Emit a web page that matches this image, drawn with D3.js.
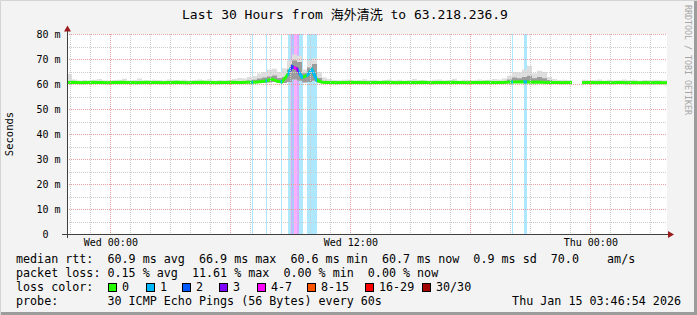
<!DOCTYPE html>
<html>
<head>
<meta charset="utf-8">
<script src="https://cdn.jsdelivr.net/npm/d3@7"></script>
<style>
html, body { margin: 0; padding: 0; background: #f3f3f3; }
svg text { font-family: "DejaVu Sans Mono", "Noto Sans CJK SC", monospace; white-space: pre; }
</style>
</head>
<body>
<svg id="chart" width="697" height="315"></svg>
<script>
// 15 minute samples, Tue 21:50 -> Thu 03:50
var startTime = new Date(2026, 0, 13, 21, 50);
var endTime = new Date(2026, 0, 15, 3, 50);
var stepMinutes = 15;

var median = [
  60.8,60.9,60.8,60.7,60.8,60.9,60.8,60.8,60.7,60.8,
  60.8,60.9,60.8,60.8,60.7,60.8,60.9,60.8,60.8,60.7,
  60.8,60.8,60.9,60.8,60.7,60.8,60.8,60.9,60.8,60.8,
  60.7,60.8,60.8,60.9,60.8,60.8,60.9,60.9,61.0,61.2,
  61.5,62.2,61.3,61.0,63.5,67.2,66.2,62.8,63.6,65.9,
  61.6,60.9,60.8,60.8,60.7,60.8,60.8,60.9,60.8,60.8,
  60.7,60.8,60.8,60.8,60.9,60.8,60.7,60.8,60.8,60.8,
  60.8,60.9,60.8,60.7,60.8,60.8,60.8,60.9,60.8,60.8,
  60.7,60.8,60.8,60.8,60.9,60.8,60.8,60.8,60.9,61.0,
  61.0,61.1,61.0,60.9,61.0,60.9,60.8,60.8,60.8,60.7,
  60.8,60.8,null,60.7,60.8,60.8,60.7,60.8,60.8,60.7,
  60.8,60.8,60.7,60.8,60.7,60.7,60.8,60.7,60.8,60.7,60.7
];
var smokeLow = [
  60.4,60.5,60.4,60.4,60.4,60.5,60.4,60.4,60.3,60.4,
  60.4,60.4,60.5,60.4,60.4,60.4,60.5,60.4,60.4,60.3,
  60.4,60.4,60.5,60.4,60.4,60.4,60.4,60.5,60.4,60.4,
  60.3,60.4,60.4,60.5,60.4,60.4,60.5,60.5,60.6,60.7,
  60.8,61.0,60.7,60.6,61.0,62.0,61.5,60.8,61.0,61.5,
  60.7,60.5,60.4,60.4,60.3,60.4,60.4,60.5,60.4,60.4,
  60.3,60.4,60.4,60.4,60.5,60.4,60.3,60.4,60.4,60.4,
  60.4,60.5,60.4,60.3,60.4,60.4,60.4,60.5,60.4,60.4,
  60.3,60.4,60.4,60.4,60.5,60.4,60.4,60.4,60.5,60.6,
  60.6,60.7,60.6,60.5,60.6,60.5,60.4,60.4,60.4,60.3,
  60.4,60.4,null,60.3,60.4,60.4,60.3,60.4,60.4,60.3,
  60.4,60.4,60.3,60.4,60.3,60.3,60.4,60.3,60.4,60.3,60.3
];
var smokeMid = [
  61.3,61.2,61.1,61.2,61.1,61.2,61.3,61.1,61.1,61.2,
  61.2,61.3,61.1,61.2,61.3,61.1,61.1,61.2,61.2,61.1,
  61.3,61.2,61.1,61.2,61.1,61.2,61.3,61.1,61.2,61.1,
  61.2,61.1,61.2,61.3,61.4,61.3,61.6,61.9,62.4,62.8,
  63.2,63.6,62.6,63.0,66.0,69.6,69.0,64.5,66.8,68.2,
  62.6,61.5,61.3,61.2,61.1,61.2,61.2,61.1,61.2,61.3,
  61.1,61.2,61.1,61.2,61.3,61.1,61.2,61.1,61.2,61.3,
  61.1,61.2,61.1,61.2,61.3,61.1,61.2,61.3,61.1,61.2,
  61.2,61.1,61.3,61.2,61.2,61.3,61.3,61.4,62.0,62.8,
  62.5,63.0,63.5,62.5,63.0,62.5,61.8,61.4,61.2,61.2,
  61.1,61.2,null,61.2,61.1,61.2,61.3,61.1,61.2,61.1,
  61.2,61.3,61.1,61.2,61.1,61.2,61.1,61.2,61.2,61.1,61.1
];
var smokeHigh = [
  64.2,62.0,61.6,61.8,61.5,61.9,62.2,61.7,61.6,61.8,
  61.9,62.3,61.6,61.8,62.4,61.7,61.6,61.9,61.8,61.6,
  62.0,61.8,61.7,61.9,61.6,61.8,62.0,61.7,62.1,61.6,
  61.8,61.7,61.9,62.2,62.6,62.4,63.0,63.4,64.4,65.0,
  66.0,66.3,65.0,66.5,69.5,72.0,71.5,66.0,69.5,70.5,
  65.0,62.8,62.2,61.8,61.7,61.9,62.0,61.6,61.8,62.1,
  61.7,61.9,61.6,61.8,62.0,61.7,61.9,61.6,61.8,62.2,
  61.7,61.8,61.6,61.9,62.0,61.7,61.8,62.3,61.6,61.9,
  61.8,61.7,62.0,61.8,61.9,62.2,62.0,62.4,63.5,65.0,
  64.8,66.0,67.5,64.5,65.5,65.0,63.0,62.2,61.8,61.9,
  61.7,61.8,null,61.9,61.7,61.8,62.0,61.6,61.9,61.7,
  61.8,62.0,61.7,61.9,61.6,61.8,61.7,61.9,61.8,61.7,61.7
];

// loss events: start, duration (minutes), pings lost
var lossStart = ["2026-01-14T07:05","2026-01-14T07:47","2026-01-14T08:32","2026-01-14T08:53",
  "2026-01-14T09:02","2026-01-14T09:05","2026-01-14T09:11","2026-01-14T09:20","2026-01-14T09:26",
  "2026-01-14T09:50","2026-01-14T20:05","2026-01-14T20:41"];
var lossMinutes = [3, 3, 3, 9, 3, 6, 9, 6, 12, 30, 3, 9];
var lossCount = [1, 1, 1, 1, 3, 2, 5, 3, 1, 1, 1, 1];

var lossLabels = ["0", "1", "2", "3", "4-7", "8-15", "16-29", "30/30"];
var lossColors = ["#26ff00", "#00b8ff", "#0059ff", "#7e00ff", "#ff00ff", "#ff5500", "#ff0000", "#a10000"];
var swatchX = [108, 146, 182, 219, 257, 307, 365, 422];

var yTicks = [0, 10, 20, 30, 40, 50, 60, 70, 80];
var xLabelTimes = [new Date(2026, 0, 14, 0, 0), new Date(2026, 0, 14, 12, 0), new Date(2026, 0, 15, 0, 0)];

var titleText = "Last 30 Hours from 海外清洗 to 63.218.236.9";
var rttRow = ["60.9 ms avg", "66.9 ms max", "60.6 ms min", "60.7 ms now", "0.9 ms sd", "70.0    am/s"];
var lossRow = ["0.15 % avg", "11.61 % max", "0.00 % min", "0.00 % now"];
var probeText = "30 ICMP Echo Pings (56 Bytes) every 60s";
var stampText = "Thu Jan 15 03:46:54 2026";

function lossColor(n) {
  if (n <= 3) return lossColors[n];
  if (n <= 7) return lossColors[4];
  if (n <= 15) return lossColors[5];
  if (n <= 29) return lossColors[6];
  return lossColors[7];
}

var svg = d3.select('#chart');
var x = d3.scaleTime().domain([startTime, endTime]).range([67, 667]);
var y = d3.scaleLinear().domain([0, 80]).range([234.5, 34.5]);

var data = median.map((v, i) => ({
  t: d3.timeMinute.offset(startTime, i * stepMinutes),
  med: v, lo: smokeLow[i], mid: smokeMid[i], hi: smokeHigh[i]
}));
var losses = lossStart.map((s, i) => {
  var t0 = new Date(s);
  return {t0: t0, t1: d3.timeMinute.offset(t0, lossMinutes[i]), n: lossCount[i]};
});

// frame
svg.append('rect').attr('x', 0).attr('y', 0).attr('width', 697).attr('height', 315).attr('fill', '#f3f3f3');
svg.append('path').attr('d', 'M0.5,315V0.5H697').attr('stroke', '#d4d4d4').attr('fill', 'none');
svg.append('path').attr('d', 'M1,313.5H695.5V1').attr('stroke', '#9c9c9c').attr('stroke-width', 3).attr('fill', 'none');

// canvas
svg.append('rect').attr('x', 67).attr('y', 34).attr('width', 600).attr('height', 200).attr('fill', '#ffffff');

var defs = svg.append('defs');
defs.append('clipPath').attr('id', 'plotclip').append('rect')
    .attr('x', 67).attr('y', 34).attr('width', 600).attr('height', 200);

var plot = svg.append('g').attr('clip-path', 'url(#plotclip)');

// loss bars
plot.selectAll('.lossbar')
    .data(losses)
    .join('rect')
    .attr('class', 'lossbar')
    .attr('x', d => Math.floor(x(d.t0)))
    .attr('y', 34)
    .attr('width', d => Math.max(1, Math.round(x(d.t1) - x(d.t0))))
    .attr('height', 200)
    .attr('fill', d => lossColor(d.n))
    .attr('opacity', 0.32);

// grid
var minorY = d3.range(5, 80, 10), majorY = d3.range(10, 90, 10);
var hours = d3.timeHour.range(startTime, endTime);
var grid = svg.append('g').attr('shape-rendering', 'crispEdges').attr('stroke-dasharray', '1,1');
grid.selectAll('.gy0').data(minorY).join('line')
    .attr('x1', 67).attr('x2', 667)
    .attr('y1', d => Math.round(y(d)) + 0.5).attr('y2', d => Math.round(y(d)) + 0.5)
    .attr('stroke', '#cdcdcd');
grid.selectAll('.gx0').data(hours.filter(h => h.getHours() % 6 != 0)).join('line')
    .attr('x1', d => Math.round(x(d)) + 0.5).attr('x2', d => Math.round(x(d)) + 0.5)
    .attr('y1', 34).attr('y2', 234)
    .attr('stroke', '#cdcdcd');
grid.selectAll('.gy1').data(majorY).join('line')
    .attr('x1', 67).attr('x2', 667)
    .attr('y1', d => Math.floor(y(d)) + 0.5).attr('y2', d => Math.floor(y(d)) + 0.5)
    .attr('stroke', '#e6a0a0');
grid.selectAll('.gx1').data(hours.filter(h => h.getHours() % 6 == 0)).join('line')
    .attr('x1', d => Math.round(x(d)) + 0.5).attr('x2', d => Math.round(x(d)) + 0.5)
    .attr('y1', 34).attr('y2', 234)
    .attr('stroke', '#e6a0a0');

// smoke
var smokeOuter = d3.area().defined(d => d.hi != null).curve(d3.curveStepAfter)
    .x(d => x(d.t)).y0(d => y(d.lo)).y1(d => y(d.hi));
var smokeInner = d3.area().defined(d => d.mid != null).curve(d3.curveStepAfter)
    .x(d => x(d.t)).y0(d => y(d.lo)).y1(d => y(d.mid));
plot.append('path').attr('d', smokeOuter(data)).attr('fill', '#dedede');
plot.append('path').attr('d', smokeInner(data)).attr('fill', '#9c9c9c');

// median, dark rim then coloured line
var medLine = d3.line().defined(d => d.med != null).x(d => x(d.t)).y(d => y(d.med));
plot.append('path').attr('d', medLine(data))
    .attr('fill', 'none').attr('stroke', lossColors[0]).attr('stroke-width', 3);

losses.forEach((d, i) => {
  var x0 = x(d.t0), x1 = x(d.t1);
  defs.append('clipPath').attr('id', 'lc' + i).append('rect')
      .attr('x', x0 - 0.5).attr('y', 0).attr('width', Math.max(1.5, x1 - x0 + 0.5)).attr('height', 315);
  plot.append('path').attr('d', medLine(data))
      .attr('clip-path', 'url(#lc' + i + ')')
      .attr('fill', 'none').attr('stroke', lossColor(d.n)).attr('stroke-width', 3);
});

// axes
svg.append('line').attr('x1', 67.5).attr('x2', 67.5).attr('y1', 238).attr('y2', 29)
    .attr('stroke', '#404040');
svg.append('line').attr('x1', 62).attr('x2', 670).attr('y1', 234.5).attr('y2', 234.5)
    .attr('stroke', '#404040');
svg.append('path').attr('d', 'M64,31.5L67.5,25.5L71,31.5Z').attr('fill', '#9b1c1c');
svg.append('path').attr('d', 'M668,231L674,234.5L668,238Z').attr('fill', '#9b1c1c');

var xAxis = svg.append('g')
    .attr('transform', 'translate(0,234)')
    .call(d3.axisBottom(x).tickValues(xLabelTimes).tickFormat(d3.timeFormat('%a %H:%M')).tickSize(0).tickPadding(5));
xAxis.select('.domain').remove();
xAxis.selectAll('text').attr('font-size', 10).attr('font-family', '"DejaVu Sans Mono", monospace').attr('fill', '#000');

var yAxis = svg.append('g')
    .attr('transform', 'translate(67,0)')
    .call(d3.axisLeft(y).tickValues(yTicks).tickFormat(d => d == 0 ? '0  ' : d + ' m').tickSize(0).tickPadding(6.5));
yAxis.select('.domain').remove();
yAxis.selectAll('text').attr('font-size', 10).attr('font-family', '"DejaVu Sans Mono", monospace').attr('fill', '#000');

// titles
svg.append('text').attr('x', 182).attr('y', 19).attr('font-size', 13).text(titleText);
svg.append('text').attr('transform', 'translate(13,134) rotate(-90)')
    .attr('text-anchor', 'middle').attr('font-size', 10.5).text('Seconds');
svg.append('text').attr('transform', 'translate(685,5) rotate(90)')
    .attr('font-size', 8.3).attr('fill', '#a6a6a6')
    .attr('textLength', 110).attr('lengthAdjust', 'spacing')
    .text('RRDTOOL / TOBI OETIKER');

// legend
var legend = svg.append('g').attr('font-size', 11.7).attr('fill', '#000');
legend.append('text').attr('x', 16).attr('y', 263).text('median rtt:  ' + rttRow.join('  '));
legend.append('text').attr('x', 16).attr('y', 277).text('packet loss: ' + lossRow.join('  '));
legend.append('text').attr('x', 16).attr('y', 291).text('loss color:');
legend.selectAll('.sw').data(lossLabels).join('rect')
    .attr('x', (d, i) => swatchX[i] + 0.5).attr('y', 283.5)
    .attr('width', 8).attr('height', 8)
    .attr('fill', (d, i) => lossColors[i]).attr('stroke', '#000');
legend.selectAll('.swl').data(lossLabels).join('text')
    .attr('x', (d, i) => swatchX[i] + 14).attr('y', 291).text(d => d);
legend.append('text').attr('x', 16).attr('y', 305).text('probe:       ' + probeText);
legend.append('text').attr('x', 681).attr('y', 305).attr('text-anchor', 'end').text(stampText);
</script>
</body>
</html>
